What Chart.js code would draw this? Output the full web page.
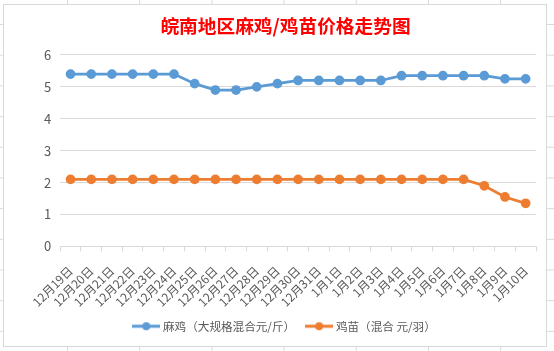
<!DOCTYPE html>
<html>
<head>
<meta charset="utf-8">
<title>皖南地区麻鸡/鸡苗价格走势图</title>
<script src="https://cdn.jsdelivr.net/npm/chart.js@4.4.0/dist/chart.umd.min.js"></script>
<style>
    html, body {
        margin: 0;
        padding: 0;
        width: 554px;
        height: 351px;
        overflow: hidden;
        background-color: #fff;
    }
    /* spreadsheet cells behind the chart */
    body {
        background-image:
            linear-gradient(to right, #dadada 1px, transparent 1px),
            linear-gradient(to bottom, #dadada 1px, transparent 1px);
        background-size: 72.2px 100%, 100% 30.7px;
        background-position: 67px 0, 0 24px;
    }
    .chart-box {
        position: absolute;
        left: 3px;
        top: 4px;
        width: 542px;
        height: 341px;
        border: 1px solid #d9d9d9;
        background: #fff;
    }
</style>
</head>
<body>
<div class="chart-box">
    <canvas id="priceChart"></canvas>
</div>

<script>
// =========================================================
// Data
// =========================================================

const chartTitle = '皖南地区麻鸡/鸡苗价格走势图';

const dates = [
    '12月19日', '12月20日', '12月21日', '12月22日', '12月23日', '12月24日',
    '12月25日', '12月26日', '12月27日', '12月28日', '12月29日', '12月30日',
    '12月31日', '1月1日', '1月2日', '1月3日', '1月4日', '1月5日',
    '1月6日', '1月7日', '1月8日', '1月9日', '1月10日'
];

// 麻鸡 大规格混合 (元/斤)
const majiPrice = [
    5.4, 5.4, 5.4, 5.4, 5.4, 5.4,
    5.1, 4.9, 4.9, 5.0, 5.1, 5.2,
    5.2, 5.2, 5.2, 5.2, 5.35, 5.35,
    5.35, 5.35, 5.35, 5.25, 5.25
];

// 鸡苗 混合 (元/羽)
const jimiaoPrice = [
    2.1, 2.1, 2.1, 2.1, 2.1, 2.1,
    2.1, 2.1, 2.1, 2.1, 2.1, 2.1,
    2.1, 2.1, 2.1, 2.1, 2.1, 2.1,
    2.1, 2.1, 1.9, 1.55, 1.35
];

const seriesNames = ['麻鸡（大规格混合元/斤）', '鸡苗（混合 元/羽）'];
const yTicks = [0, 1, 2, 3, 4, 5, 6];

const BLUE = '#5b9bd5';
const ORANGE = '#ed7d31';
const TEXT_GRAY = '#595959';
const GRID_GRAY = '#d9d9d9';
const FONT = '"Microsoft YaHei", "Noto Sans CJK SC", sans-serif';

// =========================================================
// Legend marker: short line with a dot, like Excel
// =========================================================

function makeLegendMarker(color) {
    const c = document.createElement('canvas');
    c.width = 28;
    c.height = 10;
    const g = c.getContext('2d');
    g.strokeStyle = color;
    g.lineWidth = 3;
    g.beginPath();
    g.moveTo(0, 5);
    g.lineTo(28, 5);
    g.stroke();
    g.fillStyle = color;
    g.beginPath();
    g.arc(14, 5, 4, 0, Math.PI * 2);
    g.fill();
    return c;
}

// =========================================================
// Chart
// =========================================================

const chartBox = document.querySelector('.chart-box');
const canvas = document.getElementById('priceChart');
canvas.width = chartBox.clientWidth;
canvas.height = chartBox.clientHeight;

new Chart(canvas, {
    type: 'line',
    data: {
        labels: dates,
        datasets: [
            {
                label: seriesNames[0],
                data: majiPrice,
                borderColor: BLUE,
                backgroundColor: BLUE,
                pointBackgroundColor: BLUE,
                pointBorderColor: BLUE,
                borderWidth: 2.75,
                pointRadius: 3.5,
                tension: 0
            },
            {
                label: seriesNames[1],
                data: jimiaoPrice,
                borderColor: ORANGE,
                backgroundColor: ORANGE,
                pointBackgroundColor: ORANGE,
                pointBorderColor: ORANGE,
                borderWidth: 2.75,
                pointRadius: 3.5,
                tension: 0
            }
        ]
    },
    options: {
        responsive: false,
        animation: false,
        layout: {
            padding: { top: 0, right: 10, bottom: 4, left: 31 }
        },
        plugins: {
            title: {
                display: true,
                text: chartTitle,
                color: '#ff0000',
                font: { family: FONT, size: 18.7, weight: 'bold' },
                padding: { top: 10, bottom: 17.5 }
            },
            tooltip: { enabled: false },
            legend: {
                position: 'bottom',
                labels: {
                    color: TEXT_GRAY,
                    font: { family: FONT, size: 11.6 },
                    usePointStyle: true,
                    pointStyleWidth: 22,
                    padding: 13,
                    generateLabels: chart => {
                        const items = Chart.defaults.plugins.legend.labels.generateLabels(chart);
                        const colors = [BLUE, ORANGE];
                        items.forEach((item, i) => {
                            item.pointStyle = makeLegendMarker(colors[i]);
                        });
                        return items;
                    }
                }
            }
        },
        scales: {
            x: {
                offset: true,
                // fixed axis band so the plot sits where the sheet has it;
                // the slanted first label may hang into the left margin
                afterFit: scale => {
                    scale.height = 61;
                    scale.paddingLeft = 0;
                    scale.paddingRight = 0;
                },
                grid: {
                    display: true,
                    offset: true,
                    drawOnChartArea: false,
                    drawTicks: true,
                    tickLength: 5,
                    color: GRID_GRAY
                },
                border: { display: true, color: GRID_GRAY },
                ticks: {
                    color: TEXT_GRAY,
                    font: { family: FONT, size: 12 },
                    minRotation: 45,
                    maxRotation: 45,
                    autoSkip: false,
                    padding: 12
                }
            },
            y: {
                min: yTicks[0],
                max: yTicks[yTicks.length - 1],
                grid: {
                    color: GRID_GRAY,
                    drawTicks: false,
                    tickLength: 0
                },
                border: { display: false },
                ticks: {
                    stepSize: 1,
                    color: TEXT_GRAY,
                    font: { family: FONT, size: 13 },
                    padding: 9
                }
            }
        }
    }
});
</script>
</body>
</html>
